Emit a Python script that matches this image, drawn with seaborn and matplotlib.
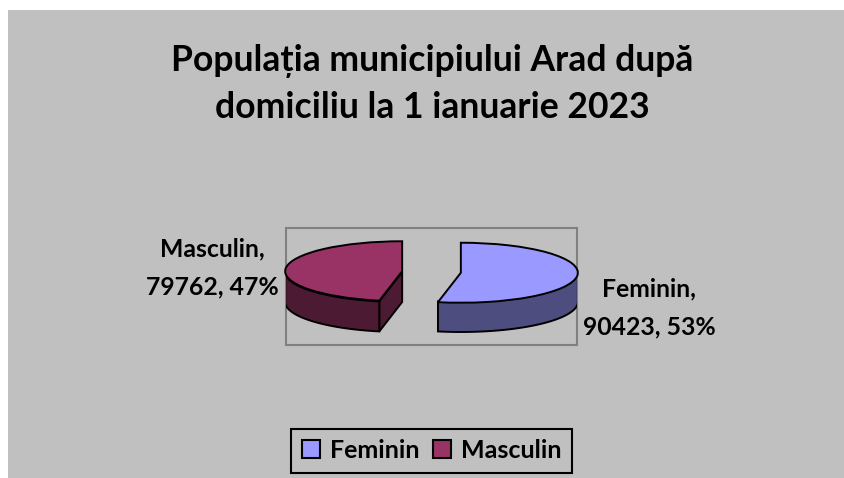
import matplotlib
matplotlib.use("Agg")
import matplotlib.pyplot as plt
import numpy as np
import seaborn as sns
from matplotlib.patches import Polygon, Rectangle
from matplotlib.transforms import Affine2D

categories = ["Feminin", "Masculin"]
values = [90423, 79762]
percents = [53, 47]
title = "Populația municipiului Arad după\ndomiciliu la 1 ianuarie 2023"

W, H = 845, 478
colors = ["#9999FF", "#993366"]
sides = ["#4D4D80", "#4D1A33"]
bg = "#C0C0C0"

sns.set_theme(style="white")
plt.rcParams["font.family"] = ["Lato", "DejaVu Sans"]
plt.rcParams["font.weight"] = "bold"


def px_box(x0, y0, x1, y1):
    return [x0 / W, 1 - y1 / H, (x1 - x0) / W, (y1 - y0) / H]


fig = plt.figure(figsize=(W / 100, H / 100), dpi=100, facecolor="white")
fig.patches.append(Rectangle((8 / W, 0), 1 - 8 / W, 1 - 10 / H, transform=fig.transFigure,
                             facecolor=bg, edgecolor="none", zorder=-5))

# plot area, 1 unit of radius = 117 px
ax = fig.add_axes(px_box(286, 228, 577, 345))
ax.patch.set_alpha(0)
squash = 30 / 117
depth = 30 / 117
cy = 14.5 / 117
edge = 1.4

wedges, _ = ax.pie(values, startangle=90, counterclock=False, explode=[0.252, 0.252],
                   colors=colors, wedgeprops={"edgecolor": "black", "linewidth": edge})
ax.set_aspect("auto")
ax.set_xlim(-291 / 117 / 2, 291 / 117 / 2)
ax.set_ylim(-0.5, 0.5)

squeeze = Affine2D().scale(1, squash).translate(0, cy)
for wedge, side in zip(wedges, sides):
    x0 = wedge.center[0]
    wedge.set_transform(squeeze + ax.transData)
    wedge.set_zorder(5)
    t1, t2 = wedge.theta1 % 360, wedge.theta2 % 360
    if t2 <= t1:
        t2 += 360
    # front part of the rim
    a0, a1 = max(t1, 180), min(t2, 360)
    th = np.radians(np.linspace(a0, a1, 60))
    xs = x0 + np.cos(th)
    ys = cy + squash * np.sin(th)
    rim = np.r_[np.c_[xs, ys], np.c_[xs, ys - depth][::-1]]
    ax.add_patch(Polygon(rim, closed=True, facecolor=side, edgecolor="black",
                         linewidth=edge, zorder=3))
    # cut face of the left slice looks at the viewer
    if x0 < 0:
        tip = np.radians(a1)
        ex, ey = x0 + np.cos(tip), cy + squash * np.sin(tip)
        cut = [(x0, cy), (ex, ey), (ex, ey - depth), (x0, cy - depth)]
        ax.add_patch(Polygon(cut, closed=True, facecolor=side, edgecolor="black",
                             linewidth=edge, zorder=2))

for s in ax.spines.values():
    s.set_visible(True)
    s.set_edgecolor("#808080")
    s.set_linewidth(1.5)
ax.set_frame_on(True)
ax.set_xticks([])
ax.set_yticks([])

fig.text(432.5 / W, 1 - 84 / H, title, ha="center", va="center", fontsize=25.6, linespacing=1.5,
         fontweight="bold", color="black")

lab_pos = [(649, 308), (212.5, 268)]
for cat, val, pct, (px, py) in zip(categories, values, percents, lab_pos):
    fig.text(px / W, 1 - py / H, f"{cat},\n{val}, {pct}%", ha="center", va="center",
             fontsize=17.8, linespacing=1.75, fontweight="bold", color="black")

handles = [Rectangle((0, 0), 1, 1, facecolor=c, edgecolor="black", linewidth=1.5) for c in colors]
leg = fig.legend(handles, categories, loc="center", bbox_to_anchor=(431.5 / W, 1 - 450.5 / H),
                 ncol=2, frameon=True, fancybox=False, handlelength=0.72,
                 prop={"family": ["Lato"], "weight": "bold", "size": 18},
                 handleheight=0.72, handletextpad=0.4, columnspacing=0.55, borderpad=0.42,
                 borderaxespad=0, labelcolor="black")
leg.get_frame().set_facecolor(bg)
leg.get_frame().set_edgecolor("black")
leg.get_frame().set_linewidth(1.5)
leg.get_frame().set_alpha(1)

fig.savefig("out.png", dpi=100)
